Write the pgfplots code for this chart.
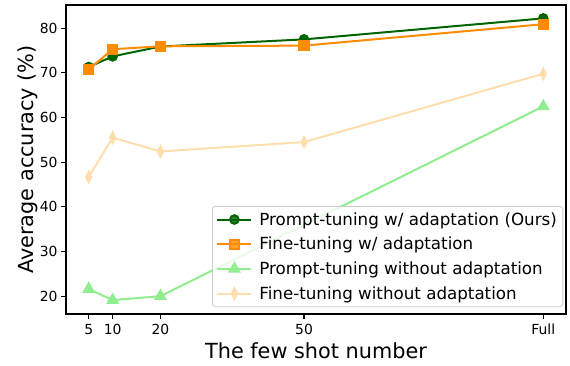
\documentclass[border=0pt]{standalone}
\usepackage{pgfplots}
\pgfplotsset{compat=1.18}
\usepackage{fontspec}
\setmainfont{DejaVu Sans}
\definecolor{cdg}{RGB}{0,100,0}
\definecolor{cor}{RGB}{255,140,0}
\definecolor{clg}{RGB}{144,238,144}
\definecolor{cnw}{RGB}{255,222,173}
\definecolor{cframe}{RGB}{204,204,204}
\begin{document}
\begin{tikzpicture}
\begin{axis}[
  scale only axis,
  width=500pt, height=309pt,
  xmin=0.25, xmax=104.75,
  ymin=16.0, ymax=85.2,
  xtick={5,10,20,50,100},
  xticklabels={5,10,20,50,Full},
  ytick={20,30,40,50,60,70,80},
  tick align=outside,
  tick pos=left,
  major tick length=4.9pt,
  every tick/.style={black, line width=1.1pt},
  axis line style={line width=1.1pt},
  /pgf/number format/assume math mode=true,
  tick label style={font=\fontsize{13.9}{16}\selectfont},
  xticklabel style={yshift=-1.5pt},
  label style={font=\fontsize{20.8}{25}\selectfont},
  xlabel={The few shot number},
  ylabel={Average accuracy (\%)},
  xlabel style={at={(axis description cs:0.5,-0.1456)}, anchor=base},
  ylabel style={at={(axis description cs:-0.066,0.5)}, anchor=base},
  legend cell align=left,
  legend style={
    at={(rel axis cs:0.292,0.3495)}, anchor=north west,
    font=\fontsize{16.7}{19}\selectfont,
    draw=cframe, fill=white, fill opacity=0.8, text opacity=1,
    rounded corners=3pt, line width=0.8pt,
    row sep=6.5pt, column sep=5pt, inner sep=4pt,
  },
  legend image code/.code={%
    \draw[mark repeat=2,mark phase=2] plot coordinates {(0pt,0pt) (17pt,0pt) (34pt,0pt)};},
]
\addplot[color=cdg, line width=2pt, mark=*, mark size=4.3pt]
  coordinates {(5,71.3) (10,73.7) (20,75.9) (50,77.5) (100,82.2)};
\addlegendentry{Prompt-tuning w/ adaptation (Ours)}
\addplot[color=cor, line width=2pt, mark=square*, mark size=4.6pt]
  coordinates {(5,70.75) (10,75.3) (20,75.95) (50,76.1) (100,80.9)};
\addlegendentry{Fine-tuning w/ adaptation}
\addplot[color=clg, line width=2pt, mark=triangle*, mark size=5.6pt]
  coordinates {(5,21.6) (10,19.1) (20,20.0) (100,62.5)};
\addlegendentry{Prompt-tuning without adaptation}
\addplot[color=cnw, line width=2pt, mark=diamond*, mark size=5.2pt, mark options={xscale=0.65}]
  coordinates {(5,46.7) (10,55.5) (20,52.4) (50,54.5) (100,69.8)};
\addlegendentry{Fine-tuning without adaptation}
\end{axis}
\pgfresetboundingbox
\path (current axis.south west) ++(-66pt,-51pt) rectangle ++(570pt,365pt);
\end{tikzpicture}
\end{document}
